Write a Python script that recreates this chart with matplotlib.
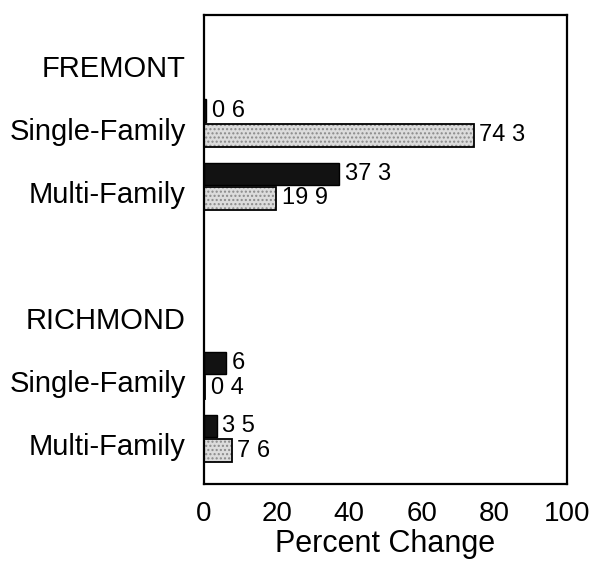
import matplotlib.pyplot as plt

# rows of the chart, top to bottom (blank row between the two cities)
ROW_LABELS = ["FREMONT", "Single-Family", "Multi-Family", "",
              "RICHMOND", "Single-Family", "Multi-Family"]
BAR_ROWS = [1, 2, 5, 6]

# percent change per housing type (dark and light series)
dark_values = [0.6, 37.3, 6, 3.5]
light_values = [74.3, 19.9, 0.4, 7.6]

X_TICKS = [0, 20, 40, 60, 80, 100]


def fmt(v):
    # the scanned labels show the decimal point as a gap
    if float(v).is_integer():
        return str(int(v))
    return f"{v:.1f}".replace(".", " ")


plt.rcParams['font.family'] = ['Liberation Sans', 'DejaVu Sans']

fig = plt.figure(figsize=(5.99, 5.65), dpi=100)
ax = fig.add_axes([0.3406, 0.1434, 0.606, 0.830])

height = 0.36
dark_y = [r - 0.29 for r in BAR_ROWS]
light_y = [r + 0.10 for r in BAR_ROWS]

ax.barh(dark_y, dark_values, height=height, color="#121212",
        edgecolor="black", linewidth=1.0)
ax.barh(light_y, light_values, height=height, color="#dcdcdc",
        edgecolor="#8a8a8a", hatch="....", linewidth=0)
ax.barh(light_y, light_values, height=height, fill=False,
        edgecolor="black", linewidth=1.3)

for y, v in zip(dark_y, dark_values):
    ax.annotate(fmt(v), (v, y), xytext=(4, 0), textcoords="offset points",
                ha="left", va="center", fontsize=17)
for y, v in zip(light_y, light_values):
    ax.annotate(fmt(v), (v, y), xytext=(4, 0), textcoords="offset points",
                ha="left", va="center", fontsize=17)

ax.set_xlim(0, 100)
ax.set_ylim(6.63, -0.81)
ax.set_xticks(X_TICKS)
ax.set_xticklabels([str(t) for t in X_TICKS], fontsize=20)
ax.set_yticks(range(len(ROW_LABELS)))
ax.set_yticklabels(ROW_LABELS, fontsize=21)
ax.tick_params(axis="x", length=0, pad=12)
ax.tick_params(axis="y", length=0, pad=13)
ax.set_xlabel("Percent Change", fontsize=22, labelpad=2)

for s in ax.spines.values():
    s.set_linewidth(1.6)
    s.set_color("black")

fig.savefig("out.png", dpi=100)
